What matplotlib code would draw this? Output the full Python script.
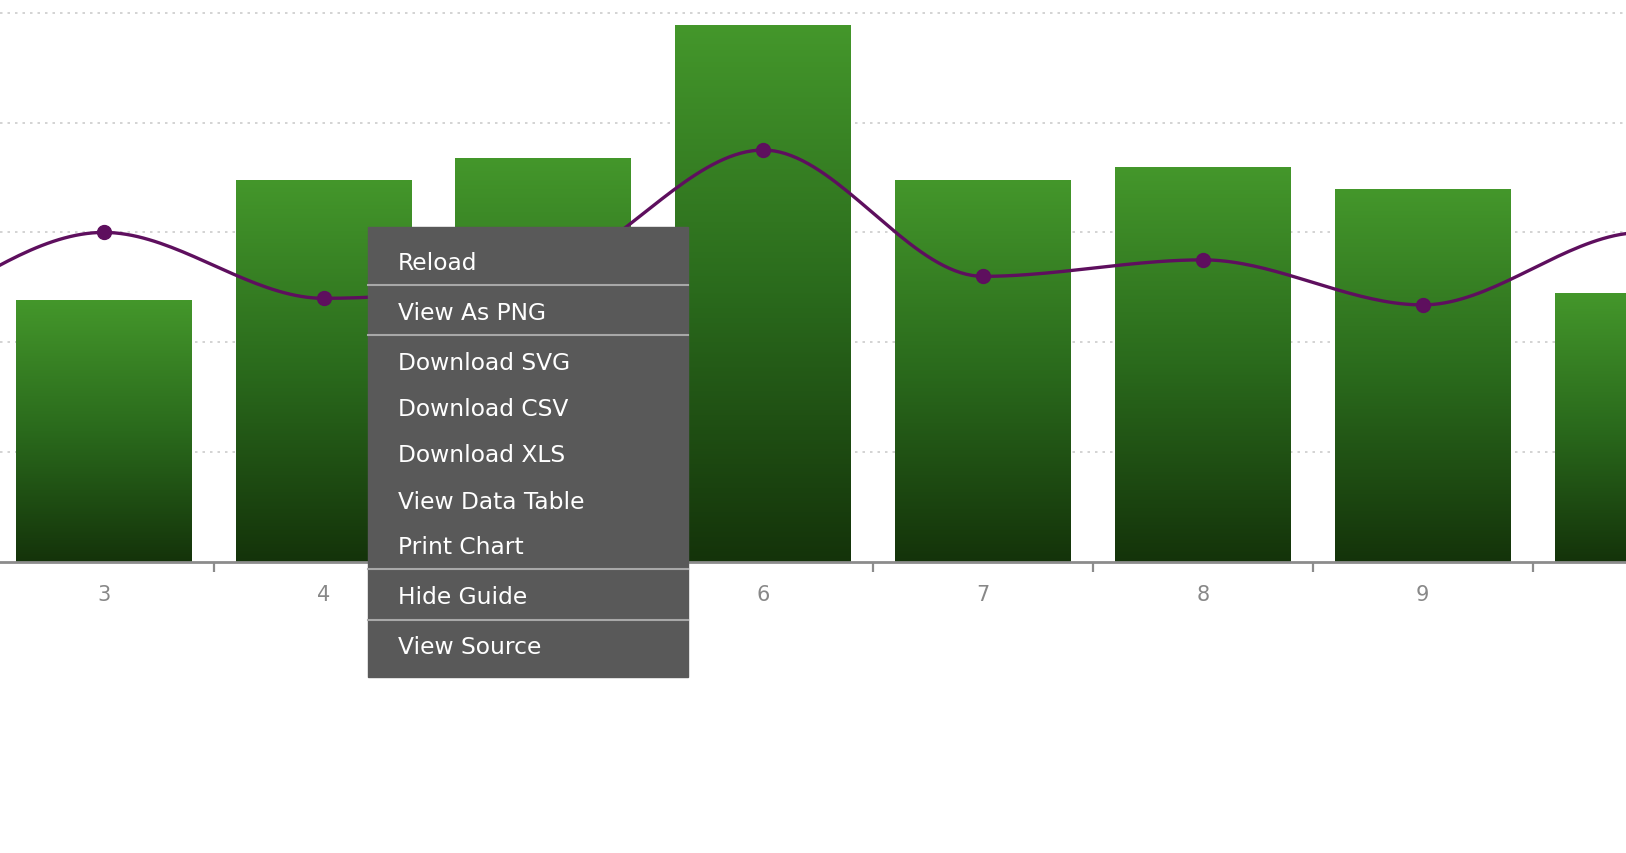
import matplotlib.pyplot as plt
import numpy as np
from matplotlib.colors import LinearSegmentedColormap

# data (categories 2 and 11 sit just outside the visible window)
cats = [2, 3, 4, 5, 6, 7, 8, 9, 10, 11]
bar_vals = [58, 47.7, 69.6, 73.6, 97.7, 69.6, 71.9, 67.9, 48.9, 62]
line_vals = [42.5, 60, 48, 52.5, 75, 52, 55, 46.8, 60, 50]
tick_cats = [3, 4, 5, 6, 7, 8, 9]
menu_items = ['Reload', 'View As PNG', 'Download SVG', 'Download CSV',
              'Download XLS', 'View Data Table', 'Print Chart', 'Hide Guide',
              'View Source']


# monotone cubic (like d3 curveMonotoneX) for the smooth line
def monotone(x, y, n=40):
    x = np.asarray(x, float)
    y = np.asarray(y, float)
    h = np.diff(x)
    s = np.diff(y) / h
    m = np.zeros(len(x))
    for i in range(1, len(x) - 1):
        p = (s[i-1]*h[i] + s[i]*h[i-1]) / (h[i-1] + h[i])
        m[i] = (np.sign(s[i-1]) + np.sign(s[i])) * min(abs(s[i-1]), abs(s[i]), 0.5*abs(p))
    m[0] = s[0]
    m[-1] = s[-1]
    xs, ys = [], []
    for i in range(len(x) - 1):
        t = np.linspace(0, 1, n)
        h00 = 2*t**3 - 3*t**2 + 1
        h10 = t**3 - 2*t**2 + t
        h01 = -2*t**3 + 3*t**2
        h11 = t**3 - t**2
        xs.append(x[i] + t*h[i])
        ys.append(h00*y[i] + h10*h[i]*m[i] + h01*y[i+1] + h11*h[i]*m[i+1])
    return np.concatenate(xs), np.concatenate(ys)


fig = plt.figure(figsize=(16.26, 8.54), dpi=100)
ax = fig.add_axes([0, 0, 1, 1])

for g in [20, 40, 60, 80, 100]:
    ax.axhline(g, color='#cccccc', lw=1.2, ls=(0, (1.5, 3)), zorder=0)

bars = ax.bar(cats, bar_vals, width=0.8, color='none', zorder=2)
grad = LinearSegmentedColormap.from_list('g', ['#14330a', '#2a6a1c', '#44972b'])
img = np.linspace(0, 1, 256).reshape(-1, 1)
for b in bars:
    x0 = b.get_x()
    im = ax.imshow(img, cmap=grad, origin='lower', aspect='auto',
                   extent=(x0, x0 + b.get_width(), 0, b.get_height()), zorder=2)
    im.set_clip_path(b)

lx, ly = monotone(cats, line_vals)
ax.plot(lx, ly, color='#5e0f5e', lw=2.4, zorder=3, solid_capstyle='round')
ax.plot(cats, line_vals, 'o', color='#5e0f5e', ms=10, zorder=4)

# axis line and ticks
for sp in ['top', 'left', 'right']:
    ax.spines[sp].set_visible(False)
ax.spines['bottom'].set_position(('data', 0))
ax.spines['bottom'].set_color('#8c8c8c')
ax.spines['bottom'].set_linewidth(2)
ax.spines['bottom'].set_zorder(5)
ax.set_yticks([])
ax.set_xticks(tick_cats)
ax.set_xticklabels([str(c) for c in tick_cats])
ax.set_xticks([c + 0.5 for c in [2] + tick_cats], minor=True)
ax.tick_params(axis='x', which='major', length=0, pad=16, labelsize=15, labelcolor='#888888')
ax.tick_params(axis='x', which='minor', length=7, width=1.6, color='#8c8c8c', direction='out')
ax.set_xlim(2.528, 9.925)
ax.set_ylim(-53, 102.5)

# context menu overlay
mx0, mx1 = 355 / 1568, 663 / 1568
my0, my1 = 1 - 654 / 824, 1 - 220 / 824
fig.patches.append(plt.Rectangle((mx0, my0), mx1 - mx0, my1 - my0,
                                 transform=fig.transFigure, color='#595959', zorder=10))
item_y = [254.5, 302.5, 350.5, 395.5, 439.5, 484.5, 528.5, 576.5, 624.5]
sep_y = [276, 324, 550, 599]
for s in sep_y:
    fig.add_artist(plt.Line2D([mx0, mx1], [1 - s / 824] * 2, color='#a8a8a8', lw=1.5, zorder=11))
for txt, yy in zip(menu_items, item_y):
    fig.text(384 / 1568, 1 - yy / 824, txt, color='white', fontsize=16.8,
             va='center', ha='left', zorder=12)

fig.savefig('out.png', dpi=100)
